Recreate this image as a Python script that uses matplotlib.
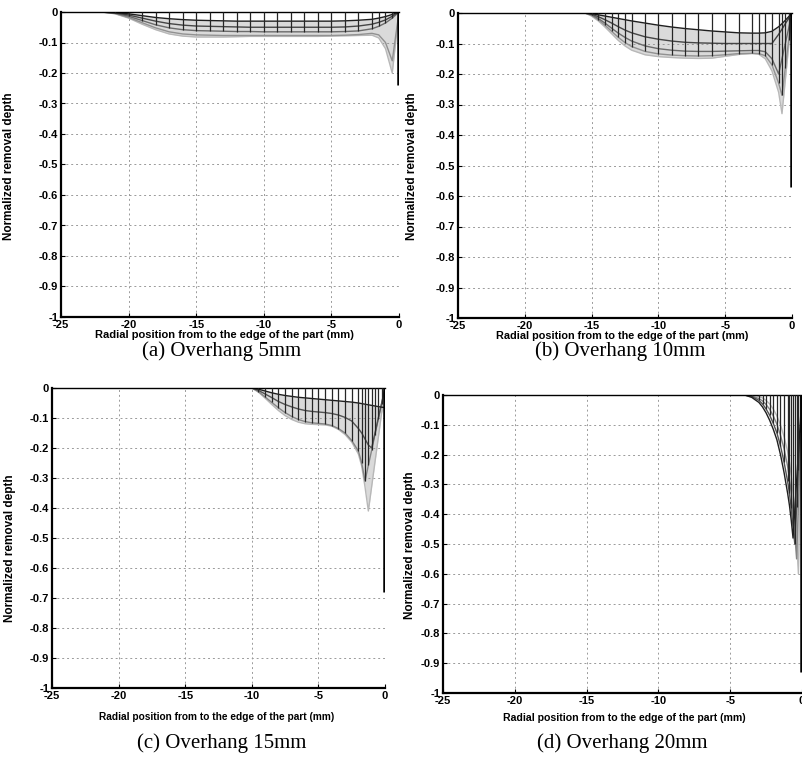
import numpy as np
import matplotlib
matplotlib.use("Agg")
import matplotlib.pyplot as plt

# ---------------- data ----------------
x_ticks = [-25, -20, -15, -10, -5, 0]
x_ticklabels = ["-25", "-20", "-15", "-10", "-5", "0"]
y_ticks = [0, -0.1, -0.2, -0.3, -0.4, -0.5, -0.6, -0.7, -0.8, -0.9, -1]
y_ticklabels = ["0", "-0.1", "-0.2", "-0.3", "-0.4", "-0.5", "-0.6", "-0.7", "-0.8", "-0.9", "-1"]

captions = ["(a) Overhang 5mm", "(b) Overhang 10mm", "(c) Overhang 15mm", "(d) Overhang 20mm"]
xlabel_text = "Radial position from to the edge of the part (mm)"
ylabel_text = "Normalized removal depth"

# Panel (a) overhang 5 mm
xa = [-25, -22, -21, -20, -19, -18, -17, -16, -15, -14, -13, -12, -11, -10, -9, -8, -7, -6, -5, -4, -3, -2, -1.5, -1, -0.5, 0]
a1 = [0, 0, -0.002, -0.006, -0.012, -0.018, -0.022, -0.025, -0.027, -0.028, -0.029, -0.03, -0.03, -0.03, -0.03, -0.03, -0.03, -0.03, -0.03, -0.029, -0.027, -0.024, -0.02, -0.015, -0.008, 0]
a2 = [0, 0, -0.003, -0.01, -0.02, -0.03, -0.038, -0.043, -0.046, -0.047, -0.048, -0.049, -0.05, -0.05, -0.05, -0.05, -0.05, -0.05, -0.05, -0.049, -0.046, -0.04, -0.034, -0.026, -0.014, 0]
a3 = [0, 0, -0.004, -0.014, -0.028, -0.042, -0.052, -0.058, -0.061, -0.062, -0.063, -0.064, -0.064, -0.065, -0.065, -0.065, -0.065, -0.065, -0.065, -0.064, -0.062, -0.055, -0.047, -0.036, -0.02, 0]
a4 = [0, 0, -0.005, -0.018, -0.035, -0.052, -0.065, -0.072, -0.075, -0.076, -0.077, -0.077, -0.077, -0.077, -0.077, -0.077, -0.077, -0.077, -0.077, -0.076, -0.074, -0.07, -0.075, -0.1, -0.16, 0]
a5 = [0, 0, -0.006, -0.02, -0.04, -0.058, -0.072, -0.079, -0.082, -0.082, -0.082, -0.081, -0.08, -0.08, -0.08, -0.08, -0.08, -0.08, -0.079, -0.078, -0.077, -0.076, -0.085, -0.12, -0.2, 0]

# Panel (b) overhang 10 mm
xb = [-25, -16, -15.5, -15, -14.5, -14, -13.5, -13, -12.5, -12, -11, -10, -9, -8, -7, -6, -5, -4, -3, -2.5, -2, -1.5, -1, -0.75, -0.5, -0.25, 0]
b1 = [0, 0, 0, -0.002, -0.006, -0.01, -0.014, -0.018, -0.022, -0.026, -0.033, -0.04, -0.046, -0.051, -0.055, -0.059, -0.062, -0.065, -0.066, -0.066, -0.065, -0.06, -0.045, -0.035, -0.024, -0.012, 0]
b2 = [0, 0, 0, -0.004, -0.012, -0.022, -0.033, -0.045, -0.056, -0.065, -0.078, -0.086, -0.092, -0.096, -0.098, -0.099, -0.1, -0.1, -0.1, -0.1, -0.1, -0.1, -0.07, -0.053, -0.035, -0.018, 0]
b3 = [0, 0, 0, -0.006, -0.018, -0.033, -0.05, -0.066, -0.08, -0.092, -0.108, -0.117, -0.122, -0.125, -0.126, -0.126, -0.125, -0.124, -0.123, -0.123, -0.127, -0.15, -0.2, -0.15, -0.1, -0.05, 0]
b4 = [0, 0, 0, -0.008, -0.022, -0.04, -0.06, -0.08, -0.097, -0.11, -0.126, -0.134, -0.138, -0.14, -0.141, -0.14, -0.137, -0.133, -0.132, -0.133, -0.14, -0.17, -0.23, -0.27, -0.18, -0.09, 0]
b5 = [0, 0, 0, -0.01, -0.026, -0.046, -0.068, -0.09, -0.108, -0.122, -0.137, -0.143, -0.146, -0.148, -0.149, -0.148, -0.142, -0.136, -0.133, -0.135, -0.15, -0.19, -0.26, -0.33, -0.22, -0.11, 0]

# Panel (c) overhang 15 mm
xc = [-25, -10.5, -10, -9.5, -9, -8.5, -8, -7.5, -7, -6.5, -6, -5.5, -5, -4.5, -4, -3.5, -3, -2.5, -2, -1.75, -1.5, -1.25, -1, -0.75, -0.5, -0.25, 0]
c1 = [0, 0, 0, -0.004, -0.01, -0.016, -0.021, -0.025, -0.028, -0.031, -0.033, -0.035, -0.037, -0.039, -0.041, -0.043, -0.045, -0.047, -0.05, -0.052, -0.054, -0.056, -0.058, -0.06, -0.062, -0.064, -0.065]
c2 = [0, 0, 0, -0.008, -0.02, -0.032, -0.045, -0.055, -0.063, -0.07, -0.075, -0.078, -0.08, -0.082, -0.085, -0.09, -0.098, -0.11, -0.135, -0.15, -0.17, -0.19, -0.2, -0.15, -0.1, -0.05, 0]
c3 = [0, 0, 0, -0.012, -0.03, -0.048, -0.066, -0.082, -0.095, -0.105, -0.112, -0.116, -0.118, -0.12, -0.125, -0.135, -0.15, -0.175, -0.21, -0.25, -0.31, -0.258, -0.207, -0.155, -0.103, -0.052, 0]
c4 = [0, 0, 0, -0.014, -0.034, -0.055, -0.075, -0.092, -0.105, -0.114, -0.119, -0.121, -0.122, -0.123, -0.127, -0.138, -0.155, -0.18, -0.22, -0.26, -0.33, -0.41, -0.328, -0.246, -0.164, -0.082, 0]

# Panel (d) overhang 20 mm
xd = [-25, -4.5, -4, -3.5, -3, -2.75, -2.5, -2.25, -2, -1.75, -1.5, -1.25, -1, -0.875, -0.75, -0.625, -0.5, -0.375, -0.25, -0.125, 0]
d1 = [0, 0, 0, -0.008, -0.025, -0.04, -0.06, -0.085, -0.115, -0.15, -0.2, -0.26, -0.33, -0.37, -0.42, -0.48, -0.384, -0.288, -0.192, -0.096, 0]
d2 = [0, 0, 0, -0.005, -0.018, -0.03, -0.047, -0.068, -0.095, -0.127, -0.17, -0.225, -0.29, -0.33, -0.38, -0.44, -0.5, -0.375, -0.25, -0.125, 0]
d3 = [0, 0, 0, -0.003, -0.012, -0.02, -0.032, -0.048, -0.07, -0.098, -0.135, -0.18, -0.24, -0.28, -0.33, -0.4, -0.47, -0.55, -0.367, -0.183, 0]
d4 = [0, 0, 0, 0, -0.005, -0.01, -0.018, -0.03, -0.047, -0.07, -0.1, -0.14, -0.19, -0.225, -0.27, -0.33, -0.4, -0.48, -0.6, -0.3, 0]

# deep plunge right at the part edge
edge_x = [-0.08, -0.1, -0.1, -0.06]
edge_depth = [-0.24, -0.57, -0.68, -0.93]

panels = [
    (xa, [a1, a2, a3, a4, a5], a3),
    (xb, [b1, b2, b3, b4, b5], b4),
    (xc, [c1, c2, c3, c4], c3),
    (xd, [d1, d2, d3, d4], d2),
]

# ---------------- layout ----------------
W, H = 803, 758
fig = plt.figure(figsize=(W / 100, H / 100), dpi=100)

def px_rect(l, r, t, b):
    return [l / W, (H - b) / H, (r - l) / W, (b - t) / H]

rects = [px_rect(61, 399, 12, 317), px_rect(458, 792, 13, 318),
         px_rect(52, 385, 388, 688), px_rect(443, 802, 395, 693)]
xlabel_pos = [(224, 335), (622, 336), (217, 717), (624, 718)]
xlabel_size = [8.0, 7.8, 7.3, 7.6]
ylabel_pos = [(9, 166), (412, 166), (10, 548), (410, 545)]
caption_pos = [(222, 351), (620, 351), (222, 743), (622, 743)]

sans = ["Liberation Sans", "DejaVu Sans"]
serif = ["Liberation Serif", "DejaVu Serif"]

for i, (x, curves, stem_curve) in enumerate(panels):
    ax = fig.add_axes(rects[i])
    x = np.asarray(x)
    cur = [np.asarray(c) for c in curves]
    n = len(cur)
    # haze between shallowest and deepest profiles
    ax.fill_between(x, cur[0], np.minimum.reduce(cur), color="#dadada", lw=0, zorder=1)
    shades = np.linspace(0.12, 0.72, n)
    for k, c in enumerate(cur[::-1]):
        g = shades[::-1][k]
        ax.plot(x, c, color=(g, g, g), lw=1.0, zorder=2)
    s = np.asarray(stem_curve)
    m = s < 0
    ax.vlines(x[m], s[m], 0, colors="#262626", lw=0.9, zorder=3)
    ax.vlines([edge_x[i]], [edge_depth[i]], [0], colors="black", lw=1.8, zorder=4)

    ax.set_xlim(-25, 0)
    ax.set_ylim(-1, 0)
    ax.set_xticks(x_ticks)
    ax.set_xticklabels(x_ticklabels)
    ax.set_yticks(y_ticks)
    ax.set_yticklabels(y_ticklabels)
    ax.grid(True, linestyle=(0, (2, 3)), color="#9a9a9a", lw=0.7, zorder=0)
    ax.tick_params(direction="in", length=3, width=0.8, pad=2, labelsize=8)
    for lab in ax.get_xticklabels() + ax.get_yticklabels():
        lab.set_fontweight("bold")
        lab.set_family(sans)
    ax.spines["right"].set_visible(False)
    ax.spines["left"].set_linewidth(1.6)
    ax.spines["bottom"].set_linewidth(1.6)
    ax.spines["top"].set_linewidth(1.0)
    ax.set_facecolor("white")

    fig.text(xlabel_pos[i][0] / W, 1 - xlabel_pos[i][1] / H, xlabel_text,
             ha="center", va="center", fontsize=xlabel_size[i], fontweight="bold", family=sans)
    fig.text(ylabel_pos[i][0] / W, 1 - ylabel_pos[i][1] / H, ylabel_text,
             ha="center", va="center", rotation=90, fontsize=8.5, fontweight="bold", family=sans)
    fig.text(caption_pos[i][0] / W, 1 - caption_pos[i][1] / H, captions[i],
             ha="center", va="center", fontsize=15, family=serif)

fig.savefig("out.png", dpi=100, facecolor="white")
